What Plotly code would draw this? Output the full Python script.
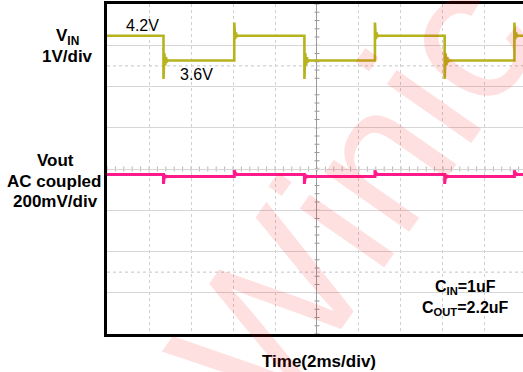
import plotly.graph_objects as go

# ---------------- data read from the scope screen ----------------
# time axis: ms relative to screen centre (2 ms/div, 10 div)
edge_times_ms = [-7.31, -3.94, -0.60, 2.76, 6.08, 9.40]
edge_kinds = ["fall", "rise", "fall", "rise", "fall", "rise"]

# VIN channel (V), 1 V/div
vin_high = 4.2
vin_low = 3.6
vin_rise_peak = 4.52
vin_fall_dip = 3.15
vin_ring_after_fall = [3.78, 3.48, 3.68, 3.56]
vin_ring_after_rise = [4.12, 4.28, 4.18]

# Vout channel (mV), AC coupled, 200 mV/div
vout_high = 4
vout_low = -6
vout_rise_peak = 24
vout_fall_dip = -42
vout_ring_after_fall = [-2, -12, -4]
vout_ring_after_rise = [10, 0, 6]

t_start, t_end = -10.0, 9.81

# screen settings
vin_screen_center = 0.97   # V at centre graticule line
vout_screen_center = 30.5  # mV at centre graticule line
vin_per_div = 1.0
vout_per_div = 200.0


def build(high, low, peak_r, dip_f, ring_f, ring_r):
    t, v = [t_start], [high if edge_kinds[0] == "fall" else low]
    ring_dt = 0.04
    for et, kind in zip(edge_times_ms, edge_kinds):
        prev = high if kind == "fall" else low
        new = low if kind == "fall" else high
        spike = dip_f if kind == "fall" else peak_r
        ring = ring_f if kind == "fall" else ring_r
        t += [et, et]
        v += [prev, spike]
        for i, r in enumerate(ring):
            t.append(et + ring_dt * (i + 1))
            v.append(r)
        t.append(et + ring_dt * (len(ring) + 1))
        v.append(new)
    t.append(t_end)
    v.append(v[-1])
    return t, v


vin_t, vin_v = build(vin_high, vin_low, vin_rise_peak, vin_fall_dip,
                     vin_ring_after_fall, vin_ring_after_rise)
vout_t, vout_v = build(vout_high, vout_low, vout_rise_peak, vout_fall_dip,
                       vout_ring_after_fall, vout_ring_after_rise)

W, H = 523, 372
L, R, T, B = 107, 0, 4, 38
PW, PH = W - L - R, H - T - B


def px(x):
    return (x - L) / PW


def py(y):
    return (H - B - y) / PH


fig = go.Figure()
fig.add_trace(go.Scatter(x=vin_t, y=vin_v, mode="lines", yaxis="y2",
                         line=dict(color="#b6b31c", width=2.6), hoverinfo="skip"))
fig.add_trace(go.Scatter(x=vout_t, y=vout_v, mode="lines", yaxis="y3",
                         line=dict(color="#ff1a8c", width=3), hoverinfo="skip"))

shapes = []
grid_col = "#d6d6d6"
# dotted marker lines at +-2.5 div
for yv in (2.5, -2.5):
    shapes.append(dict(type="line", xref="paper", x0=0, x1=1, yref="y", y0=yv, y1=yv,
                       line=dict(color="#c4c4c4", width=1, dash="dot"), layer="below"))
# ticks on centre lines (0.2 div)
k = -20
while k <= 20:
    yv = k * 0.2
    shapes.append(dict(type="line", xref="x", xsizemode="pixel", xanchor=0, x0=-2.5, x1=2.5,
                       yref="y", y0=yv, y1=yv, line=dict(color="#9a9a9a", width=1), layer="below"))
    k += 1
k = -25
while k <= 25:
    xv = k * 0.4
    shapes.append(dict(type="line", yref="y", ysizemode="pixel", yanchor=0, y0=-2.5, y1=2.5,
                       xref="x", x0=xv, x1=xv, line=dict(color="#b4b4b4", width=1), layer="below"))
    k += 1

bold_font = dict(family="Arial, Liberation Sans, sans-serif", size=17, color="black")
small_bold = dict(family="Arial, Liberation Sans, sans-serif", size=16, color="black")
reg_font = dict(family="Arial, Liberation Sans, sans-serif", size=16, color="black")

ann = []


def label(text, x, y, font, **kw):
    ann.append(dict(text=text, x=px(x), y=py(y), xref="paper", yref="paper",
                    showarrow=False, font=font, xanchor="center", yanchor="middle", **kw))


label("<b>V<sub>IN</sub></b>", 67, 37, bold_font)
label("<b>1V/div</b>", 67, 56, bold_font)
label("<b>Vout</b>", 55, 161, bold_font)
label("<b>AC coupled</b>", 54, 181, bold_font)
label("<b>200mV/div</b>", 55, 201, bold_font)
label("4.2V", 142, 26, reg_font)
label("3.6V", 196, 74, reg_font)
label("<b>C<sub>IN</sub>=1uF</b>", 465, 287, small_bold)
label("<b>C<sub>OUT</sub>=2.2uF</b>", 465, 308, small_bold)
label("<b>Time(2ms/div)</b>", 319, 361, bold_font)
# watermark
ann.append(dict(text="Winic", x=px(352), y=py(195), xref="paper", yref="paper",
                showarrow=False, textangle=-55,
                font=dict(family="Arial, Liberation Sans, sans-serif", size=195,
                          color="rgba(255,0,0,0.12)"),
                xanchor="center", yanchor="middle"))

fig.update_layout(
    width=W, height=H,
    margin=dict(l=L, r=R, t=T, b=B, pad=0, autoexpand=False),
    paper_bgcolor="white", plot_bgcolor="white",
    showlegend=False,
    xaxis=dict(range=[t_start, t_end], dtick=2, tick0=0, showgrid=True,
               gridcolor="#cfcfcf", griddash="dot", gridwidth=1,
               zeroline=True, zerolinecolor="#9a9a9a", zerolinewidth=1,
               showline=True, linecolor="black", linewidth=2.5, mirror=True,
               showticklabels=False, ticks="", fixedrange=True),
    yaxis=dict(range=[-4, 4], dtick=1, tick0=0, showgrid=True,
               gridcolor=grid_col, gridwidth=1,
               zeroline=True, zerolinecolor=grid_col, zerolinewidth=1,
               showline=True, linecolor="black", linewidth=3, mirror=False,
               showticklabels=False, ticks="", fixedrange=True),
    yaxis2=dict(overlaying="y", visible=False, fixedrange=True,
                range=[vin_screen_center - 4 * vin_per_div, vin_screen_center + 4 * vin_per_div]),
    yaxis3=dict(overlaying="y", visible=False, fixedrange=True,
                range=[vout_screen_center - 4 * vout_per_div, vout_screen_center + 4 * vout_per_div]),
    shapes=shapes,
    annotations=ann,
)

fig.write_html("out.html", config={"displayModeBar": False},
               post_script="document.body.style.margin='0px';document.body.style.padding='0px';")
